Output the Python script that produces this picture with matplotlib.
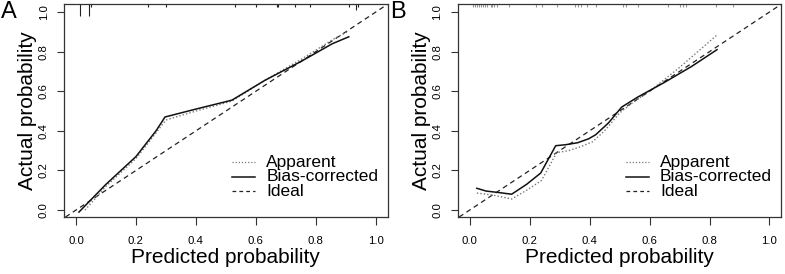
import numpy as np
import matplotlib
import matplotlib.pyplot as plt

matplotlib.use('Agg')
plt.rcParams['font.family'] = ['Liberation Sans', 'DejaVu Sans']

# ---------------------------------------------------------------- data
# panel A
a_bias_x = [0.01, 0.10, 0.20, 0.267, 0.297, 0.40, 0.52, 0.63, 0.75, 0.855, 0.91]
a_bias_y = [-0.01, 0.13, 0.27, 0.40, 0.47, 0.51, 0.555, 0.655, 0.75, 0.84, 0.875]
a_app_x = [0.03, 0.10, 0.20, 0.267, 0.30, 0.40, 0.52, 0.63, 0.75, 0.855, 0.91]
a_app_y = [0.00, 0.12, 0.26, 0.39, 0.455, 0.50, 0.55, 0.655, 0.76, 0.86, 0.905]
a_rug_x = [0.013, 0.043, 0.05, 0.24, 0.30, 0.53, 0.60, 0.67, 0.675, 0.73, 0.78, 0.91, 0.935, 0.94]
a_rug_n = [4, 4, 1, 1, 1, 1, 1, 1, 1, 1, 1, 1, 2, 1]

# panel B
b_bias_x = [0.024, 0.055, 0.10, 0.14, 0.19, 0.237, 0.287, 0.32, 0.36, 0.397, 0.42, 0.463, 0.507, 0.56, 0.65, 0.74, 0.825]
b_bias_y = [0.11, 0.096, 0.088, 0.08, 0.13, 0.187, 0.325, 0.33, 0.34, 0.36, 0.38, 0.44, 0.52, 0.57, 0.645, 0.725, 0.81]
b_app_x = [0.024, 0.08, 0.14, 0.19, 0.24, 0.29, 0.33, 0.37, 0.41, 0.45, 0.50, 0.55, 0.60, 0.70, 0.825]
b_app_y = [0.086, 0.075, 0.056, 0.10, 0.15, 0.29, 0.30, 0.32, 0.345, 0.40, 0.49, 0.55, 0.60, 0.72, 0.884]
b_rug_x = [0.011, 0.018, 0.024, 0.031, 0.038, 0.045, 0.051, 0.057, 0.071, 0.076, 0.081, 0.091,
           0.13, 0.22, 0.24, 0.29, 0.35, 0.36, 0.37, 0.39, 0.42, 0.51, 0.52, 0.56,
           0.66, 0.70, 0.71, 0.72, 0.82, 0.88]

ticks = [0.0, 0.2, 0.4, 0.6, 0.8, 1.0]
tick_labels = ['0.0', '0.2', '0.4', '0.6', '0.8', '1.0']
legend_labels = ['Apparent', 'Bias-corrected', 'Ideal']

# ---------------------------------------------------------------- figure
fig = plt.figure(figsize=(7.85, 2.74), dpi=100)
ax_a = fig.add_axes([0.0815, 0.208, 0.4125, 0.777])
ax_b = fig.add_axes([0.583, 0.208, 0.4125, 0.777])

frame_col = '#333333'


def style_panel(ax):
    ax.set_xlim(-0.04, 1.04)
    ax.set_ylim(-0.035, 1.04)
    ax.set_xticks(ticks)
    ax.set_xticklabels(tick_labels, fontsize=8.2)
    ax.set_yticks(ticks)
    ax.set_yticklabels(tick_labels, fontsize=8.2, rotation=90, va='center')
    ax.tick_params(axis='x', length=6, width=0.8, color=frame_col, pad=8)
    ax.tick_params(axis='y', length=5, width=0.8, color=frame_col, pad=6)
    for s in ax.spines.values():
        s.set_linewidth(0.9)
        s.set_color(frame_col)
    ax.set_xlabel('Predicted probability', fontsize=15, labelpad=1)
    ax.set_ylabel('Actual probability', fontsize=15, labelpad=1)
    ax.axline((0, 0), slope=1, color='#222222', lw=0.9, ls=(0, (4, 3)))


def draw_legend(ax):
    ys = [0.258, 0.188, 0.122]
    styles = [dict(color='#777777', lw=0.9, ls=(0, (1, 1.5))),
              dict(color='#111111', lw=1.1, ls='-'),
              dict(color='#222222', lw=0.9, ls=(0, (3, 2.5)))]
    for yy, lab, st in zip(ys, legend_labels, styles):
        ax.plot([0.52, 0.59], [yy, yy], transform=ax.transAxes, **st)
        ax.text(0.625, yy, lab, transform=ax.transAxes, fontsize=12.5,
                va='center', ha='left')


# panel A
style_panel(ax_a)
ax_a.plot(a_app_x, a_app_y, color='#777777', lw=1.0, ls=(0, (1, 1.5)))
ax_a.plot(a_bias_x, a_bias_y, color='#111111', lw=1.1)
rug_h = [0.0135 * n for n in a_rug_n]
ax_a.vlines(a_rug_x, [1 - h for h in rug_h], 1, transform=ax_a.get_xaxis_transform(),
            color='#222222', lw=0.8)
draw_legend(ax_a)

# panel B
style_panel(ax_b)
ax_b.plot(b_app_x, b_app_y, color='#777777', lw=1.0, ls=(0, (1, 1.5)))
ax_b.plot(b_bias_x, b_bias_y, color='#111111', lw=1.1)
ax_b.vlines(b_rug_x, 0.985, 1, transform=ax_b.get_xaxis_transform(),
            color='#999999', lw=0.8)
draw_legend(ax_b)

fig.text(0.001, 0.995, 'A', fontsize=17, va='top', ha='left')
fig.text(0.497, 0.995, 'B', fontsize=17, va='top', ha='left')

fig.savefig('out.png', dpi=100)
